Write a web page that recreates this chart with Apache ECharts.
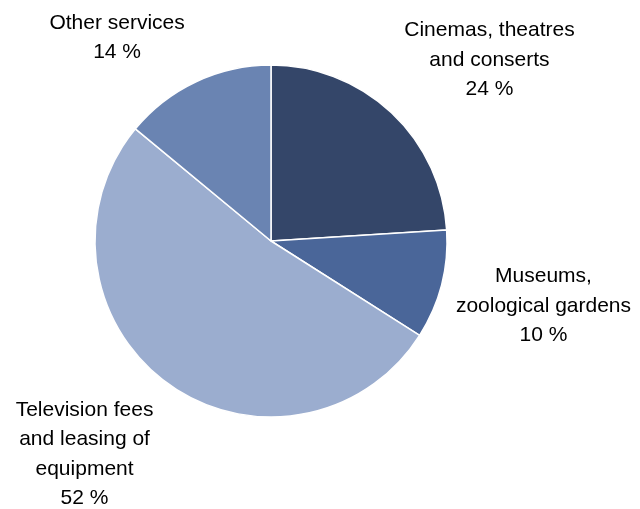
<!DOCTYPE html>
<html>
<head>
<meta charset="utf-8">
<script src="https://cdn.jsdelivr.net/npm/echarts@6/dist/echarts.min.js"></script>
<style>
  html, body { margin: 0; padding: 0; background: #fff; }
  #chart { width: 640px; height: 509px; }
</style>
</head>
<body>
<div id="chart"></div>
<script>
// slices, clockwise from 12 o'clock
let categories = [
    'Cinemas, theatres\nand conserts',
    'Museums,\nzoological gardens',
    'Television fees\nand leasing of\nequipment',
    'Other services'
];
let shares = [24, 10, 52, 14];
let colors = ['#344669', '#4a6699', '#9badcf', '#6a84b2'];

// nudge of each label from its slice rim point (layout only)
let labelNudge = [[98, -52.5], [102, 21], [-83, 71], [-79, -44]];

let option = {
    backgroundColor: '#fff',
    animation: false,
    series: [
        {
            type: 'pie',
            center: [271, 241],
            radius: 176,
            startAngle: 90,
            clockwise: true,
            avoidLabelOverlap: false,
            itemStyle: {
                borderColor: '#fff',
                borderWidth: 1.5
            },
            label: {
                show: true,
                position: 'outside',
                alignTo: 'none',
                distanceToLabelLine: 0,
                fontFamily: 'Liberation Sans, Arial, sans-serif',
                fontSize: 21,
                lineHeight: 29.5,
                color: '#000',
                formatter: function (p) {
                    return p.name + '\n' + p.value + ' %';
                }
            },
            labelLine: { show: false, length: 0, length2: 0 },
            labelLayout: function (params) {
                let n = labelNudge[params.dataIndex];
                return {
                    align: 'center',
                    verticalAlign: 'middle',
                    dx: n[0],
                    dy: n[1]
                };
            },
            emphasis: { disabled: true },
            data: categories.map(function (c, i) {
                return { name: c, value: shares[i], itemStyle: { color: colors[i] } };
            })
        }
    ]
};

echarts.init(document.getElementById('chart')).setOption(option);
</script>
</body>
</html>
